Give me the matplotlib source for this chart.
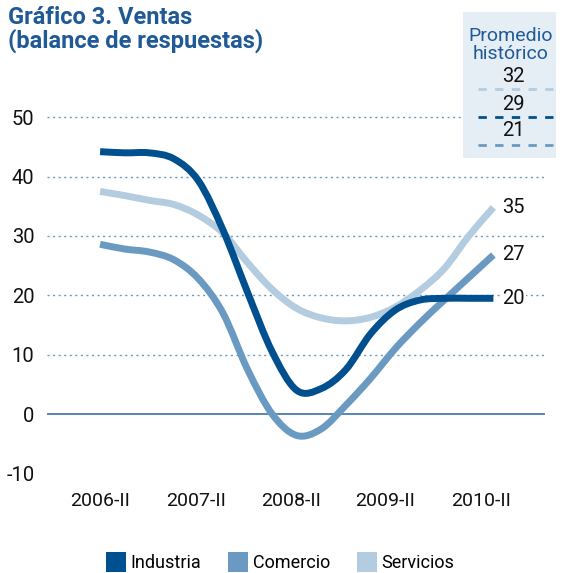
import matplotlib
matplotlib.use("Agg")
import matplotlib.pyplot as plt
from matplotlib.patches import Rectangle, Patch, PathPatch
from matplotlib.lines import Line2D
from matplotlib.path import Path

# -----------------------------
# Data (quarterly, 2006-II .. 2010-II)
# -----------------------------
quarters = list(range(17))
industria = [44.2, 44.0, 44.0, 43.0, 39.3, 31.0, 20.5, 10.5, 4.0, 4.3, 7.5,
             13.5, 17.5, 19.2, 19.5, 19.5, 19.5]
comercio = [28.6, 27.8, 27.3, 26.0, 22.8, 17.0, 7.5, 0.0, -3.6, -2.5, 1.5,
            6.0, 11.0, 15.3, 19.2, 23.0, 26.8]
servicios = [37.5, 36.8, 36.0, 35.3, 33.5, 30.5, 25.5, 21.0, 17.8, 16.2, 15.7,
             16.3, 18.0, 20.8, 24.5, 30.0, 34.8]

end_labels = ["20", "27", "35"]
tick_labels = ["2006-II", "2007-II", "2008-II", "2009-II", "2010-II"]
tick_pos = [0, 3.9, 7.75, 11.6, 15.5]
yticks = [-10, 0, 10, 20, 30, 40, 50]

promedio = ["32", "29", "21"]

# colours
C_IND = "#00508F"
C_COM = "#6A9AC1"
C_SER = "#B4CCE0"
C_GRID = "#6A9AC1"
C_TITLE = "#1F5A96"

plt.rcParams["font.family"] = ["Roboto", "DejaVu Sans"]

W, H = 562, 573
fig = plt.figure(figsize=(W / 100, H / 100), dpi=100)


def fx(px):
    return px / W


def fy(py):
    return 1 - py / H


def smooth_path(xs, ys):
    # Catmull-Rom style bezier through the data points
    pts = list(zip(xs, ys))
    n = len(pts)
    verts = [pts[0]]
    codes = [Path.MOVETO]
    for i in range(n - 1):
        p0 = pts[max(i - 1, 0)]
        p1 = pts[i]
        p2 = pts[i + 1]
        p3 = pts[min(i + 2, n - 1)]
        c1 = (p1[0] + (p2[0] - p0[0]) / 6, p1[1] + (p2[1] - p0[1]) / 6)
        c2 = (p2[0] - (p3[0] - p1[0]) / 6, p2[1] - (p3[1] - p1[1]) / 6)
        verts += [c1, c2, p2]
        codes += [Path.CURVE4] * 3
    return Path(verts, codes)


ax = fig.add_axes([fx(47), fy(480), (545 - 47) / W, (480 - 100) / H])
ax.set_xlim(-2.16, 18.1)
ax.set_ylim(-11.1, 52.9)
for s in ax.spines.values():
    s.set_visible(False)

# grid
for v in [10, 20, 30, 40, 50]:
    ax.axhline(v, color=C_GRID, lw=1.0, ls=(0, (1.5, 2.5)), zorder=1)
ax.axhline(0, color="#4A7DAD", lw=1.3, zorder=1)

for series, col, z in [(servicios, C_SER, 3), (comercio, C_COM, 4), (industria, C_IND, 5)]:
    ax.add_patch(PathPatch(smooth_path(quarters, series), facecolor="none",
                           edgecolor=col, lw=5, capstyle="butt", zorder=z))

# end labels
for series, lab in zip([industria, comercio, servicios], end_labels):
    ax.annotate(lab, (quarters[-1], series[-1]), xytext=(6, 0),
                textcoords="offset points", va="center", ha="left",
                fontsize=14.5, color="#111111",
                bbox=dict(facecolor="white", edgecolor="none", pad=1),
                zorder=6)

ax.set_yticks(yticks)
ax.set_yticklabels([str(v) for v in yticks], fontsize=14.5)
ax.set_xticks(tick_pos)
ax.set_xticklabels(tick_labels, fontsize=14)
ax.tick_params(axis="both", length=0, colors="#111111")
ax.tick_params(axis="y", pad=9)
ax.tick_params(axis="x", pad=9)

# title
fig.text(fx(8), fy(6), "Gráfico 3. Ventas\n(balance de respuestas)",
         ha="left", va="top", fontsize=17, fontweight="bold",
         color=C_TITLE, linespacing=1.0)

# promedio historico box
fig.patches.append(Rectangle((fx(463), fy(158)), (556 - 463) / W, (158 - 12) / H,
                             transform=fig.transFigure, facecolor="#E6EEF5",
                             edgecolor="none", zorder=2))
fig.text(fx(511), fy(45), "Promedio\nhistórico", ha="center", va="center",
         fontsize=14, color=C_TITLE, linespacing=0.95, zorder=3)
for i, (val, col) in enumerate(zip(promedio, [C_SER, C_IND, C_COM])):
    y_txt = 77 + i * 27
    y_ln = 89 + i * 28
    fig.text(fx(513), fy(y_txt), val, ha="center", va="center", fontsize=14.5,
             color="#111111", zorder=3)
    fig.lines.append(Line2D([fx(478), fx(553)], [fy(y_ln), fy(y_ln)],
                            transform=fig.transFigure, color=col, lw=2,
                            ls=(0, (3, 3)), zorder=3))

# legend
handles = [Patch(facecolor=c, edgecolor="none") for c in [C_IND, C_COM, C_SER]]
fig.legend(handles, ["Industria", "Comercio", "Servicios"], loc="center",
           bbox_to_anchor=(fx(280), fy(562)), ncol=3, frameon=False,
           prop=dict(size=13), handlelength=1.1, handleheight=1.3,
           handletextpad=0.25, columnspacing=1.5)

fig.savefig("out.png", dpi=100)
